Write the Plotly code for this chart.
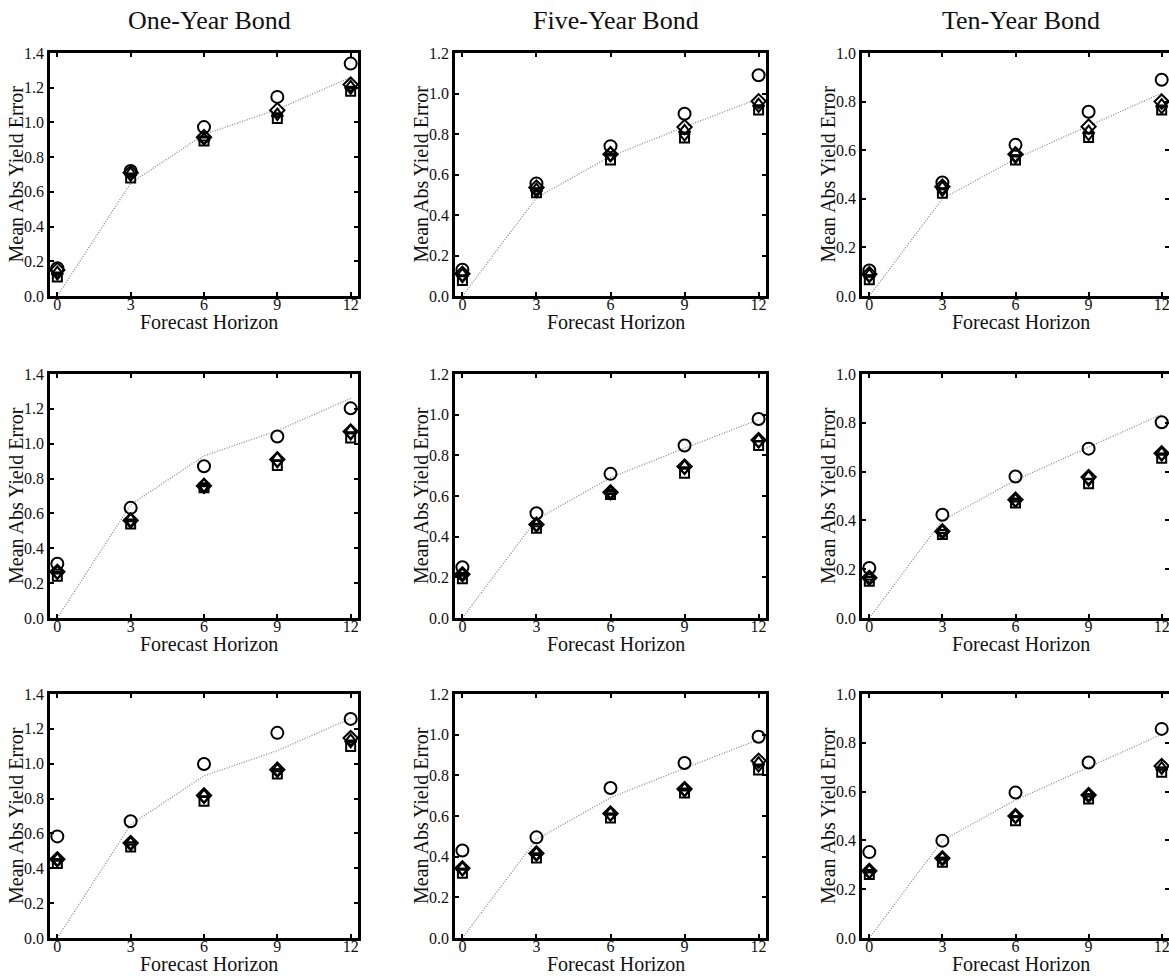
import plotly.graph_objects as go

W, H = 1169, 976

horizons = [0, 3, 6, 9, 12]
bond_titles = ["One-Year Bond", "Five-Year Bond", "Ten-Year Bond"]
x_label = "Forecast Horizon"
y_label = "Mean Abs Yield Error"
y_max = [1.4, 1.2, 1.0]
y_ticks = [[0.0, 0.2, 0.4, 0.6, 0.8, 1.0, 1.2, 1.4],
           [0.0, 0.2, 0.4, 0.6, 0.8, 1.0, 1.2],
           [0.0, 0.2, 0.4, 0.6, 0.8, 1.0]]

# benchmark (dotted line), one per bond maturity (same in every row)
bench_1y = [0.0, 0.65, 0.93, 1.075, 1.26]
bench_5y = [0.0, 0.485, 0.69, 0.835, 0.975]
bench_10y = [0.0, 0.40, 0.565, 0.70, 0.835]
benchmarks = [bench_1y, bench_5y, bench_10y]

# series values: [row][col] -> values at horizons
circle_vals = [
    [[0.16, 0.72, 0.973, 1.147, 1.339], [0.13, 0.556, 0.74, 0.90, 1.09], [0.105, 0.467, 0.622, 0.758, 0.89]],
    [[0.311, 0.632, 0.871, 1.041, 1.203], [0.25, 0.515, 0.709, 0.848, 0.979], [0.205, 0.423, 0.58, 0.694, 0.802]],
    [[0.583, 0.67, 0.998, 1.177, 1.257], [0.43, 0.495, 0.738, 0.861, 0.99], [0.352, 0.399, 0.596, 0.719, 0.857]],
]
diamond_vals = [
    [[0.15, 0.71, 0.915, 1.07, 1.218], [0.11, 0.536, 0.70, 0.834, 0.962], [0.09, 0.45, 0.583, 0.697, 0.80]],
    [[0.265, 0.56, 0.758, 0.91, 1.07], [0.215, 0.46, 0.618, 0.745, 0.875], [0.165, 0.355, 0.485, 0.578, 0.675]],
    [[0.452, 0.545, 0.818, 0.966, 1.147], [0.343, 0.416, 0.612, 0.733, 0.872], [0.275, 0.327, 0.50, 0.586, 0.705]],
]
triup_vals = [
    [[0.14, 0.71, 0.91, 1.05, 1.21], [0.11, 0.53, 0.71, 0.82, 0.95], [0.09, 0.45, 0.59, 0.68, 0.79]],
    [[0.27, 0.57, 0.77, 0.92, 1.08], [0.22, 0.463, 0.622, 0.75, 0.88], [0.168, 0.359, 0.488, 0.581, 0.679]],
    [[0.457, 0.55, 0.823, 0.971, 1.14], [0.348, 0.421, 0.618, 0.738, 0.865], [0.279, 0.331, 0.505, 0.59, 0.70]],
]
tridown_vals = [
    [[0.12, 0.69, 0.90, 1.04, 1.19], [0.09, 0.51, 0.69, 0.79, 0.93], [0.075, 0.43, 0.565, 0.66, 0.77]],
    [[0.25, 0.55, 0.75, 0.89, 1.05], [0.21, 0.45, 0.61, 0.73, 0.86], [0.16, 0.35, 0.475, 0.56, 0.665]],
    [[0.44, 0.535, 0.80, 0.955, 1.12], [0.33, 0.405, 0.60, 0.72, 0.84], [0.265, 0.32, 0.49, 0.58, 0.69]],
]
square_vals = [
    [[0.11, 0.68, 0.893, 1.023, 1.18], [0.077, 0.51, 0.672, 0.78, 0.918], [0.067, 0.423, 0.56, 0.652, 0.765]],
    [[0.239, 0.54, 0.747, 0.875, 1.033], [0.193, 0.442, 0.607, 0.712, 0.848], [0.151, 0.342, 0.471, 0.55, 0.655]],
    [[0.427, 0.522, 0.785, 0.941, 1.099], [0.318, 0.393, 0.59, 0.713, 0.826], [0.26, 0.31, 0.481, 0.57, 0.679]],
]

series = [
    ("square-open", square_vals, 9),
    ("triangle-down-open", tridown_vals, 9),
    ("triangle-up-open", triup_vals, 10),
    ("diamond-open", diamond_vals, 11),
    ("circle-open", circle_vals, 12),
]

FONT = "Liberation Serif"

# plot-area pixel geometry
col_px = [(50, 358), (455, 766), (862, 1169)]
row_px = [(53, 296), (374, 618), (694, 938)]

fig = go.Figure()
annotations = []
layout = {}

for r in range(3):
    for c in range(3):
        k = r * 3 + c + 1
        xa = "x" if k == 1 else f"x{k}"
        ya = "y" if k == 1 else f"y{k}"
        fig.add_trace(go.Scatter(
            x=horizons, y=benchmarks[c], mode="lines",
            line=dict(color="#8a8a8a", width=1.3, dash="1px,1.6px"),
            xaxis=xa, yaxis=ya, showlegend=False, hoverinfo="skip"))
        for sym, vals, size in series:
            fig.add_trace(go.Scatter(
                x=horizons, y=vals[r][c], mode="markers",
                marker=dict(symbol=sym, size=size, color="black",
                            line=dict(color="black", width=2)),
                xaxis=xa, yaxis=ya, showlegend=False))
        x0, x1 = col_px[c]
        y0, y1 = row_px[r]
        common = dict(showline=True, linecolor="black", linewidth=2.5,
                      mirror="ticks", ticks="inside", ticklen=4, tickwidth=1.5,
                      tickcolor="black", showgrid=False, zeroline=False,
                      automargin=False, ticklabeloverflow="allow",
                      tickfont=dict(family=FONT, size=16, color="#111"))
        layout["xaxis" if k == 1 else f"xaxis{k}"] = dict(
            domain=[x0 / W, x1 / W], range=[-0.3, 12.3],
            tickvals=horizons, anchor=ya, ticklabelstandoff=-8, **common)
        layout["yaxis" if k == 1 else f"yaxis{k}"] = dict(
            domain=[1 - y1 / H, 1 - y0 / H], range=[0, y_max[c]],
            tickvals=y_ticks[c], tickformat=".1f", anchor=xa, **common)
        # axis titles
        annotations.append(dict(
            text=x_label, xref="paper", yref="paper",
            x=((x0 + x1) / 2 + 5) / W, y=1 - (y1 + 26) / H,
            showarrow=False, xanchor="center", yanchor="middle", borderpad=0,
            font=dict(family=FONT, size=20, color="#111")))
        annotations.append(dict(
            text=y_label, xref="paper", yref="paper",
            x=(x0 - 34) / W, y=1 - ((y0 + y1) / 2) / H, textangle=-90,
            showarrow=False, xanchor="center", yanchor="middle", borderpad=0,
            font=dict(family=FONT, size=20, color="#111")))

for c in range(3):
    x0, x1 = col_px[c]
    annotations.append(dict(
        text=bond_titles[c], xref="paper", yref="paper",
        x=((x0 + x1) / 2 + 5) / W, y=1 - 21 / H,
        showarrow=False, xanchor="center", yanchor="middle", borderpad=0,
        font=dict(family=FONT, size=26, color="#111")))

fig.update_layout(
    width=W, height=H,
    margin=dict(l=0, r=0, t=0, b=0, pad=0, autoexpand=False),
    paper_bgcolor="white", plot_bgcolor="white",
    annotations=annotations,
    **layout,
)

fig.write_html(
    "out.html",
    config={"displayModeBar": False},
    post_script="document.body.style.margin='0';document.body.style.overflow='hidden';",
)
